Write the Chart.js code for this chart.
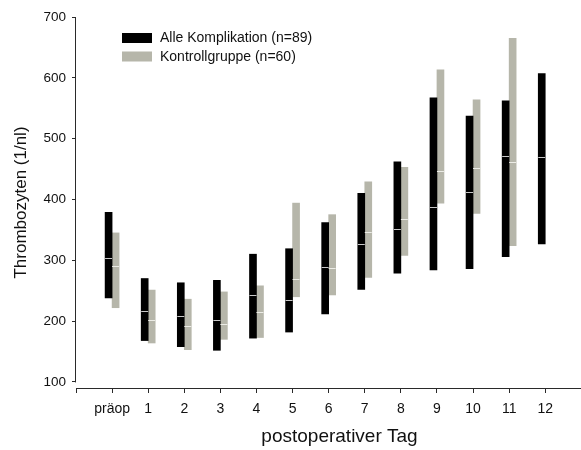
<!DOCTYPE html>
<html>
<head>
<meta charset="utf-8">
<script src="https://cdn.jsdelivr.net/npm/chart.js@4.4.1/dist/chart.umd.min.js"></script>
<style>
  html, body { margin: 0; padding: 0; overflow: hidden; background: #fff; width: 581px; height: 450px; }
  #wrap { position: absolute; left: 0; top: 0; width: 611px; height: 450px; }
</style>
</head>
<body>
<div id="wrap"><canvas id="c" width="611" height="450"></canvas></div>
<script>
// ---- data ----
const dayLabels = ['präop', '1', '2', '3', '4', '5', '6', '7', '8', '9', '10', '11', '12'];
const dayIndex  = [0, 1, 2, 3, 4, 5, 6, 7, 8, 9, 10, 11, 12];

const komplLabel  = 'Alle Komplikation (n=89)';
const komplLow    = [238, 168, 158, 152, 172, 182, 212, 252, 279, 284, 286, 306, 327];
const komplHigh   = [379, 270, 263, 267, 310, 319, 362, 410, 462, 567, 537, 562, 607];
const komplMedian = [304, 216, 208, 202, 243, 235, 289, 326, 351, 387, 412, 472, 469];

const kontrLabel  = 'Kontrollgruppe (n=60)';
const kontrLow    = [222, 164, 153, 170, 173, 240, 243, 272, 308, 394, 377, 324, null];
const kontrHigh   = [345, 251, 236, 248, 258, 394, 375, 429, 453, 613, 564, 665, null];
const kontrMedian = [290, 201, 192, 196, 215, 270, 287, 347, 368, 447, 452, 461, null];

const yTickValues = [100, 200, 300, 400, 500, 600, 700];

// ---- styling ----
const FONT = "'Liberation Sans', Arial, sans-serif";
const AXIS = '#2a2a2a';
const TEXT = '#111111';
const BLACK = '#000000';
const GRAY = '#b6b6aa';

function toBars(low, high) {
  return dayIndex.map((d, i) => ({ x: d, y: (low[i] == null ? null : [low[i], high[i]]) }));
}

const medianPlugin = {
  id: 'medianLines',
  afterDatasetsDraw(chart) {
    const ctx = chart.ctx;
    const ys = chart.scales.y;
    chart.data.datasets.forEach((ds, i) => {
      const meta = chart.getDatasetMeta(i);
      meta.data.forEach((bar, j) => {
        const m = ds.medians[j];
        if (m == null) return;
        const py = Math.round(ys.getPixelForValue(m)) + 0.5;
        ctx.save();
        ctx.strokeStyle = ds.medianColor;
        ctx.lineWidth = 1;
        ctx.beginPath();
        ctx.moveTo(bar.x - bar.width / 2, py);
        ctx.lineTo(bar.x + bar.width / 2, py);
        ctx.stroke();
        ctx.restore();
      });
    });
  }
};

const yAxisLinePlugin = {
  id: 'yAxisLine',
  afterDraw(chart) {
    const ys = chart.scales.y;
    const ctx = chart.ctx;
    const x = Math.round(chart.chartArea.left) - 0.5;
    ctx.save();
    ctx.strokeStyle = AXIS;
    ctx.lineWidth = 1;
    ctx.beginPath();
    ctx.moveTo(x, ys.getPixelForValue(yTickValues[yTickValues.length - 1]));
    ctx.lineTo(x, ys.getPixelForValue(yTickValues[0]) + 0.5);
    ctx.stroke();
    ctx.restore();
  }
};

const legendPlugin = {
  id: 'innerLegend',
  afterDraw(chart) {
    const ctx = chart.ctx;
    const a = chart.chartArea;
    chart.data.datasets.forEach((ds, i) => {
      const bx = a.left + 46;
      const by = a.top + 16 + i * 18.5;
      ctx.save();
      ctx.fillStyle = ds.backgroundColor;
      ctx.fillRect(bx, by, 30, 10);
      ctx.fillStyle = TEXT;
      ctx.font = '14px ' + FONT;
      ctx.textBaseline = 'middle';
      ctx.textAlign = 'left';
      ctx.fillText(ds.label, bx + 38, by + 5.5);
      ctx.restore();
    });
  }
};

new Chart(document.getElementById('c'), {
  type: 'bar',
  data: {
    datasets: [
      {
        label: komplLabel,
        data: toBars(komplLow, komplHigh),
        medians: komplMedian,
        medianColor: '#c8c8c8',
        backgroundColor: BLACK,
        borderWidth: 0,
        barThickness: 7,
        grouped: true
      },
      {
        label: kontrLabel,
        data: toBars(kontrLow, kontrHigh),
        medians: kontrMedian,
        medianColor: '#ecece6',
        backgroundColor: GRAY,
        borderWidth: 0,
        barThickness: 7,
        grouped: true
      }
    ]
  },
  options: {
    responsive: false,
    animation: false,
    devicePixelRatio: 1,
    layout: { padding: { top: 17, right: 6, left: 0, bottom: 0 } },
    plugins: { legend: { display: false }, tooltip: { enabled: false } },
    scales: {
      x: {
        type: 'linear',
        position: 'bottom',
        min: -1,
        max: 13.6,
        offset: false,
        border: { display: true, color: AXIS, width: 1 },
        grid: { display: true, offset: false, drawOnChartArea: false, drawTicks: true, tickLength: 5, color: AXIS },
        ticks: {
          stepSize: 1,
          autoSkip: false,
          maxRotation: 0,
          minRotation: 0,
          padding: 8,
          color: TEXT,
          font: { family: FONT, size: 14 },
          callback: (v) => (Number.isInteger(v) && v >= 0 && v < dayLabels.length) ? dayLabels[v] : ''
        },
        title: {
          display: true,
          text: 'postoperativer Tag',
          color: TEXT,
          font: { family: FONT, size: 19 },
          padding: { top: 0, bottom: 1.5 }
        },
        afterFit: (s) => { s.height = 62; }
      },
      y: {
        type: 'linear',
        min: 90,
        max: 700,
        border: { display: false },
        grid: { display: true, drawOnChartArea: false, drawTicks: true, tickLength: 4, color: AXIS },
        afterBuildTicks: (s) => { s.ticks = yTickValues.map(v => ({ value: v })); },
        ticks: {
          padding: 6,
          color: TEXT,
          font: { family: FONT, size: 13.5 }
        },
        title: {
          display: true,
          text: 'Thrombozyten (1/nl)',
          color: TEXT,
          font: { family: FONT, size: 17 },
          padding: { top: 11, bottom: 0 }
        },
        afterFit: (s) => { s.width = 76; }
      }
    }
  },
  plugins: [medianPlugin, yAxisLinePlugin, legendPlugin]
});
</script>
</body>
</html>
